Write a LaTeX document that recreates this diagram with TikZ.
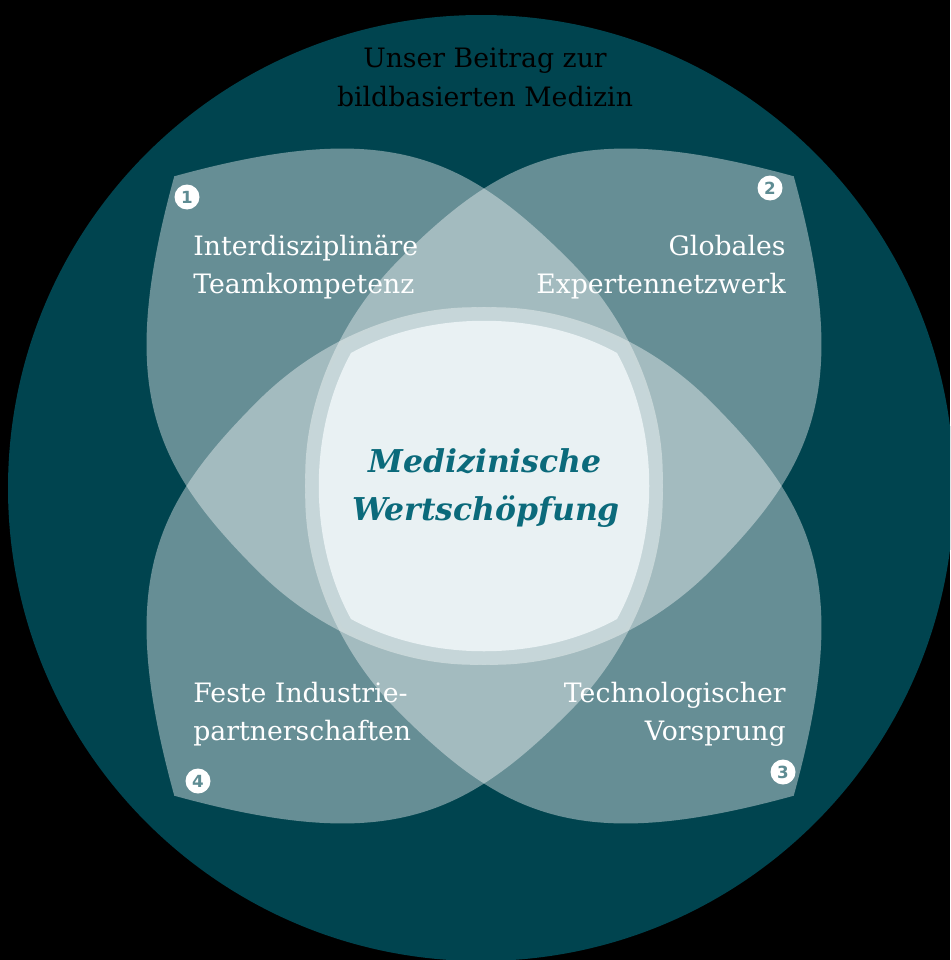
\documentclass[tikz,border=0pt]{standalone}
\usepackage{fontspec}
\setmainfont{DejaVu Serif}
\setsansfont{DejaVu Sans}
\definecolor{deep}{HTML}{00444F}
\definecolor{band}{HTML}{C6D6D9}
\definecolor{pale}{HTML}{E9F1F3}
\definecolor{ink}{HTML}{0B6A7B}
\definecolor{digit}{HTML}{5E8C93}
\begin{document}
\begin{tikzpicture}[x=0.02cm, y=-0.02cm,
  petal/.style={fill=white, fill opacity=.4},
  lab/.style={text=white, inner sep=0pt, font=\fontsize{15.2}{18}\selectfont},
  headline/.style={text=black, inner sep=0pt, font=\fontsize{15.2}{18}\selectfont},
  core/.style={text=ink, inner sep=0pt, font=\bfseries\itshape\fontsize{17.9}{21}\selectfont},
  badge/.style={circle, fill=white, minimum size=0.5cm, inner sep=0pt, text=digit, font=\sffamily\bfseries\fontsize{9.5}{11}\selectfont}]
\useasboundingbox (0,0) rectangle (950,960);
\fill [black] (0,0) rectangle (950,960);
\clip (0,0) rectangle (950,960);
\fill [deep] (481,488) circle [radius=473];

\foreach \r in {-45,45,135,-135}
{
   \fill [petal, shift={(484,486)}, rotate=\r] (-438,0) .. controls (-330,190) and (-250,220) .. (-100,220)
      .. controls (0,220) and (90,175) .. (140,110) .. controls (175,65) and (185,30) .. (185,0)
      .. controls (185,-30) and (175,-65) .. (140,-110) .. controls (90,-175) and (0,-220) .. (-100,-220)
      .. controls (-250,-220) and (-330,-190) .. (-438,0) -- cycle;
}

\fill [band] (343,345) .. controls (424,295) and (544,295) .. (625,345) .. controls (675,426) and (675,546) .. (625,627)
   .. controls (544,677) and (424,677) .. (343,627) .. controls (293,546) and (293,426) .. (343,345) -- cycle;
\fill [pale] (351,353) .. controls (429,310) and (539,310) .. (617,353) .. controls (660,431) and (660,541) .. (617,619)
   .. controls (539,662) and (429,662) .. (351,619) .. controls (308,541) and (308,431) .. (351,353) -- cycle;

\node [headline, anchor=base] (head1) at (485,67) {Unser Beitrag zur};
\node [headline, anchor=base] (head2) at (485,106) {bildbasierten Medizin};

\node [core, anchor=base] (core1) at (485,472) {Medizinische};
\node [core, anchor=base] (core2) at (486,520) {Wertschöpfung};

\node [lab, anchor=base west] (team1) at (193,255) {Interdisziplinäre};
\node [lab, anchor=base west] (team2) at (193,293) {Teamkompetenz};
\node [lab, anchor=base east] (netz1) at (786,255) {Globales};
\node [lab, anchor=base east] (netz2) at (786,293) {Expertennetzwerk};
\node [lab, anchor=base east] (tech1) at (786,702) {Technologischer};
\node [lab, anchor=base east] (tech2) at (786,740) {Vorsprung};
\node [lab, anchor=base west] (ind1) at (193,702) {Feste Industrie-};
\node [lab, anchor=base west] (ind2) at (193,740) {partnerschaften};

\node [badge] (no1) at (187,197) {1};
\node [badge] (no2) at (770,188) {2};
\node [badge] (no3) at (783,772) {3};
\node [badge] (no4) at (198,781) {4};
\end{tikzpicture}
\end{document}
